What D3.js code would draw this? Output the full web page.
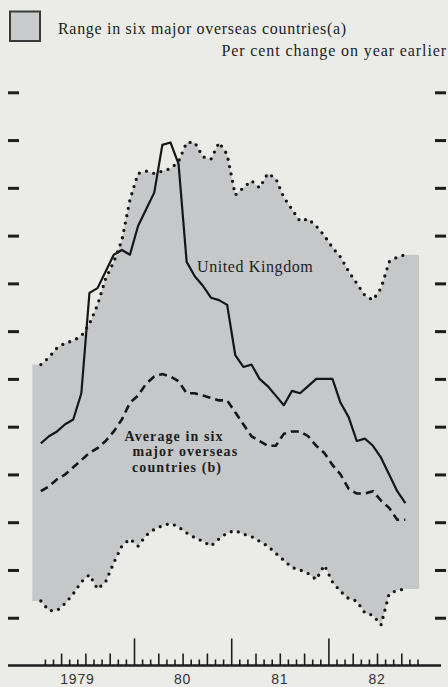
<!DOCTYPE html>
<html lang="en">
<head>
    <meta charset="utf-8">
    <title>Retail prices - UK and six major overseas countries</title>
    <style>
        body {
            margin: 0;
            background: #ebebe8;
        }
        svg {
            display: block;
        }
        .txt {
            font-family: "Liberation Serif", "Times New Roman", serif;
            fill: #1d1d1d;
        }
        .band {
            fill: #c5c7c9;
        }
        .uk {
            fill: none;
            stroke: #161616;
            stroke-width: 2.2px;
            stroke-linejoin: round;
        }
        .avg {
            fill: none;
            stroke: #161616;
            stroke-width: 2.6px;
            stroke-dasharray: 8 5;
        }
        .dots {
            fill: none;
            stroke: #161616;
            stroke-width: 3.3px;
            stroke-linecap: round;
            stroke-dasharray: 0 7.5;
        }
        .side .tick line {
            stroke: #1d1d1d;
            stroke-width: 3px;
        }
        .side .domain, .month .domain {
            display: none;
        }
        .month .tick line {
            stroke: #1d1d1d;
            stroke-width: 1.6px;
        }
    </style>
    <script src="https://d3js.org/d3.v7.min.js"></script>
</head>
<body>
<div id="chart"></div>
<script>
// monthly, Jan 1979 .. Oct 1982, per cent change on a year earlier
var ukValues = [9.3, 9.6, 9.8, 10.1, 10.3, 11.4, 15.6, 15.8, 16.5, 17.2, 17.4, 17.2,
                18.4, 19.1, 19.8, 21.8, 21.9, 21.0, 16.9, 16.3, 15.9, 15.4, 15.3, 15.1,
                13.0, 12.5, 12.6, 12.0, 11.7, 11.3, 10.9, 11.5, 11.4, 11.7, 12.0, 12.0,
                12.0, 11.0, 10.4, 9.4, 9.5, 9.2, 8.7, 8.0, 7.3, 6.8];

var averageValues = [7.3, 7.5, 7.8, 8.0, 8.3, 8.6, 8.9, 9.1, 9.4, 9.8, 10.3, 11.0,
                     11.3, 11.8, 12.1, 12.2, 12.1, 11.9, 11.4, 11.4, 11.3, 11.2, 11.1, 11.1,
                     10.6, 10.1, 9.6, 9.4, 9.2, 9.2, 9.7, 9.8, 9.8, 9.6, 9.2, 8.9,
                     8.4, 8.0, 7.4, 7.2, 7.2, 7.3, 6.9, 6.6, 6.1, 6.1];

var rangeHigh = [12.6, 12.9, 13.3, 13.5, 13.6, 13.8, 14.3, 15.1, 16.2, 16.9, 17.8, 19.5,
                 20.6, 20.7, 20.6, 20.7, 20.8, 21.1, 21.9, 21.9, 21.3, 21.2, 21.9, 21.4,
                 19.7, 20.0, 20.3, 20.0, 20.6, 20.4, 19.6, 19.1, 18.6, 18.7, 18.4, 18.0,
                 17.5, 17.1, 16.5, 16.0, 15.5, 15.3, 15.8, 16.9, 17.1, 17.2];

var rangeLow = [2.7, 2.3, 2.3, 2.6, 3.0, 3.5, 3.8, 3.2, 3.5, 4.3, 5.0, 5.3,
                5.0, 5.45, 5.7, 5.85, 5.95, 5.8, 5.55, 5.35, 5.2, 5.0, 5.3, 5.55,
                5.65, 5.5, 5.4, 5.2, 5.0, 4.7, 4.4, 4.1, 4.0, 3.85, 3.6, 4.2,
                3.5, 3.1, 2.8, 2.7, 2.2, 2.1, 1.7, 3.0, 3.15, 3.2];

// the shaded band is carried a little beyond the first and last month
var bandStart = -0.55;
var bandEnd = 47.2;

var yearLabels = ["1979", "80", "81", "82"];
var yTicks = [2, 4, 6, 8, 10, 12, 14, 16, 18, 20, 22, 24];

var width = 448,
    height = 687;

var svg = d3.select("#chart").append("svg")
    .attr("width", width)
    .attr("height", height);

// set the ranges (x in months from Jan 1979)
var x = d3.scaleLinear().domain([0, 48]).range([36.8, 425.6]);
var y = d3.scaleLinear().domain([0, 24]).range([665.5, 92.3]);

var data = ukValues.map(function(v, i) {
    return { m: i + 0.5, uk: v, avg: averageValues[i], hi: rangeHigh[i], lo: rangeLow[i] };
});

var bandData = [{ m: bandStart, hi: rangeHigh[0], lo: rangeLow[0] }]
    .concat(data)
    .concat([{ m: bandEnd, hi: rangeHigh[rangeHigh.length - 1], lo: rangeLow[rangeLow.length - 1] }]);

// shaded range
svg.append("path")
    .datum(bandData)
    .attr("class", "band")
    .attr("d", d3.area()
        .x(function(d) { return x(d.m); })
        .y0(function(d) { return y(d.lo); })
        .y1(function(d) { return y(d.hi); }));

// dotted edges of the range
["hi", "lo"].forEach(function(key) {
    svg.append("path")
        .datum(data)
        .attr("class", "dots")
        .attr("d", d3.line()
            .x(function(d) { return x(d.m); })
            .y(function(d) { return y(d[key]); }));
});

// average line
svg.append("path")
    .datum(data)
    .attr("class", "avg")
    .attr("d", d3.line()
        .x(function(d) { return x(d.m); })
        .y(function(d) { return y(d.avg); }));

// UK line
svg.append("path")
    .datum(data)
    .attr("class", "uk")
    .attr("d", d3.line()
        .x(function(d) { return x(d.m); })
        .y(function(d) { return y(d.uk); }));

// side tick marks, no labels
svg.append("g")
    .attr("class", "side")
    .attr("transform", "translate(8,0)")
    .call(d3.axisRight(y).tickValues(yTicks).tickSize(11).tickFormat(""));

svg.append("g")
    .attr("class", "side")
    .attr("transform", "translate(446,0)")
    .call(d3.axisLeft(y).tickValues(yTicks).tickSize(11).tickFormat(""));

// month ticks: short, quarters a bit taller, years tall
var monthTicks = d3.range(1, 48).filter(function(m) { return m % 3 !== 0; });
var quarterTicks = d3.range(3, 48, 3).filter(function(m) { return m % 12 !== 0; });
var yearTicks = [12, 24, 36];

[[monthTicks, 6], [quarterTicks, 12], [yearTicks, 27]].forEach(function(t) {
    svg.append("g")
        .attr("class", "month")
        .attr("transform", "translate(0," + y(0) + ")")
        .call(d3.axisTop(x).tickValues(t[0]).tickSize(t[1]).tickFormat(""));
});

// baseline
svg.append("line")
    .attr("x1", 8)
    .attr("x2", 441)
    .attr("y1", y(0))
    .attr("y2", y(0))
    .style("stroke", "#1d1d1d")
    .style("stroke-width", "2.4px");

// year labels, "79" sits under the middle of the year
svg.selectAll(".year")
    .data(yearLabels)
    .enter().append("text")
    .attr("class", "year")
    .attr("x", function(d, i) { return x(i * 12 + 6); })
    .attr("dx", function(d) { return d.length > 2 ? -8 : 0; })
    .attr("y", 684)
    .attr("text-anchor", "middle")
    .style("font-family", "'Liberation Sans', sans-serif")
    .style("font-size", "14px")
    .style("letter-spacing", "0.8px")
    .style("fill", "#333")
    .text(function(d) { return d; });

// legend
svg.append("rect")
    .attr("x", 10)
    .attr("y", 11.5)
    .attr("width", 30)
    .attr("height", 29.5)
    .style("fill", "#c9cacb")
    .style("stroke", "#3a3a3a")
    .style("stroke-width", "2px");

svg.append("text")
    .attr("class", "txt")
    .attr("x", 58)
    .attr("y", 34)
    .style("font-size", "16px")
    .style("letter-spacing", "0.7px")
    .text("Range in six major overseas countries(a)");

svg.append("text")
    .attr("class", "txt")
    .attr("x", 447)
    .attr("y", 56)
    .attr("text-anchor", "end")
    .style("font-size", "16px")
    .style("letter-spacing", "0.9px")
    .text("Per cent change on year earlier");

// line labels
svg.append("text")
    .attr("class", "txt")
    .attr("x", 197)
    .attr("y", 272)
    .style("font-size", "16px")
    .style("letter-spacing", "0.6px")
    .text("United Kingdom");

var avgLabel = [["Average in six", 124.5, 441], ["major overseas", 132.5, 456], ["countries (b)", 132, 471.5]];
avgLabel.forEach(function(l) {
    svg.append("text")
        .attr("class", "txt")
        .attr("x", l[1])
        .attr("y", l[2])
        .style("font-size", "14px")
        .style("font-weight", "bold")
        .style("letter-spacing", "1.1px")
        .text(l[0]);
});
</script>
</body>
</html>
